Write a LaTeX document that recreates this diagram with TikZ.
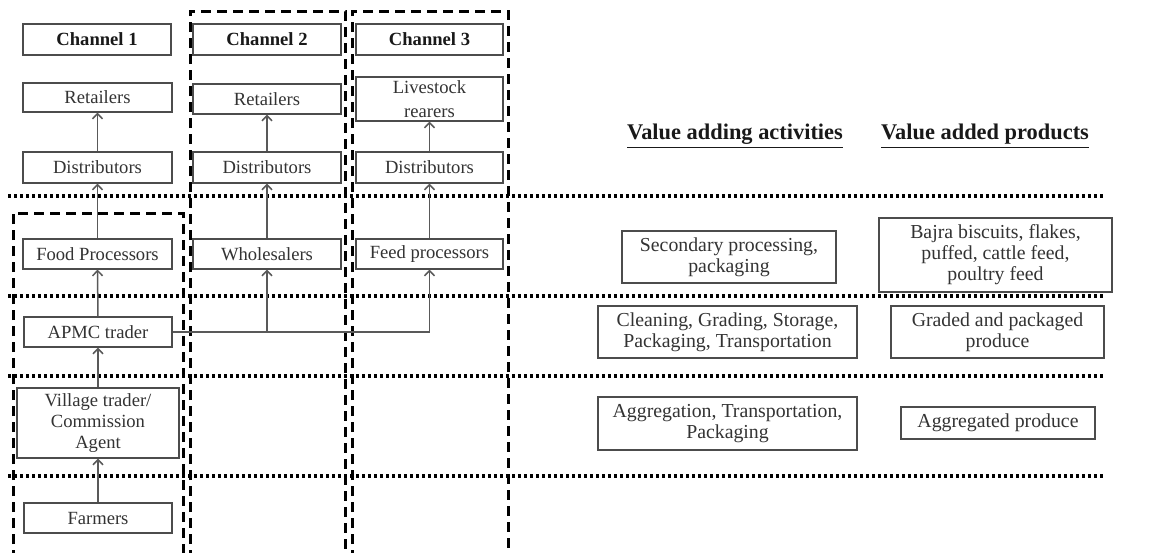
\documentclass[tikz,border=0pt]{standalone}
\usepackage{fontspec}
\setmainfont{Liberation Serif}
\usetikzlibrary{arrows.meta}
\newcommand{\boxfont}{\fontsize{9.3}{10.5}\selectfont}
\newcommand{\sidefont}{\fontsize{9.9}{10.5}\selectfont}
\newcommand{\sidehead}{\fontsize{11.2}{12}\selectfont\bfseries}
\begin{document}
\begin{tikzpicture}[x=0.5pt,y=-0.5pt,
  box/.style={draw=black!70, line width=0.55pt, inner sep=1pt, align=center,
    font=\boxfont, text=black!80, fill=white},
  sidebox/.style={box, font=\sidefont},
  headbox/.style={box, font=\boxfont\bfseries, text=black!90},
  arr/.style={draw=black!65, line width=0.75pt,
    -{Straight Barb[length=2.6pt,width=5pt]}},
  zoneline/.style={line width=1.7pt, dash pattern=on 1.6pt off 1.4pt},
  chanframe/.style={line width=1.5pt, dash pattern=on 5pt off 3pt}]
\useasboundingbox (0,0) rectangle (1152,552);

% channel frames
\draw[chanframe] (13,560) -- (13,213) -- (183,213) -- (183,560);
\draw[chanframe] (190,560) -- (190,11) -- (345,11) -- (345,560);
\draw[chanframe] (352,560) -- (352,11) -- (508,11) -- (508,560);

% stage separators
\foreach \yy in {196,296,376,476}
  \draw[zoneline] (8,\yy) -- (1103,\yy);

% channel headings
\node[headbox, minimum width=74pt, minimum height=15.5pt] (ch1) at (97,39.5) {Channel 1};
\node[headbox, minimum width=74pt, minimum height=15.5pt] (ch2) at (267,39.5) {Channel 2};
\node[headbox, minimum width=73.5pt, minimum height=15.5pt] (ch3) at (429.5,39.5) {Channel 3};

% channel 1
\node[box, minimum width=74.5pt, minimum height=14.5pt] (ret1) at (97.5,97.5) {Retailers};
\node[box, minimum width=74.5pt, minimum height=15.5pt] (dist1) at (97.5,167.5) {Distributors};
\node[box, minimum width=74.5pt, minimum height=15pt] (food) at (97.5,254) {Food Processors};
\node[box, minimum width=74pt, minimum height=15pt] (apmc) at (98,332) {APMC trader};
\node[box, minimum width=81pt, minimum height=35pt] (village) at (98,423) {Village trader/\\Commission\\Agent};
\node[box, minimum width=74pt, minimum height=15pt] (farmers) at (98,518) {Farmers};

% channel 2
\node[box, minimum width=74pt, minimum height=15pt] (ret2) at (267,99) {Retailers};
\node[box, minimum width=74pt, minimum height=15.5pt] (dist2) at (267,167.5) {Distributors};
\node[box, minimum width=74pt, minimum height=15pt] (whole) at (267,254) {Wholesalers};

% channel 3
\node[box, minimum width=73.5pt, minimum height=22pt, inner ysep=0pt,
  font=\fontsize{9.3}{12}\selectfont] (live) at (429.5,99) {Livestock\\rearers};
\node[box, minimum width=73.5pt, minimum height=15.5pt] (dist3) at (429.5,167.5) {Distributors};
\node[box, minimum width=73.5pt, minimum height=15pt] (feed) at (429.5,254) {Feed processors};

% flows
\draw[arr] (farmers.north) -- (village.south);
\draw[arr] (village.north) -- (apmc.south);
\draw[arr] (apmc.north) -- (food.south);
\draw[arr] (food.north) -- (dist1.south);
\draw[arr] (dist1.north) -- (ret1.south);
\draw[arr] (whole.north) -- (dist2.south);
\draw[arr] (dist2.north) -- (ret2.south);
\draw[arr] (feed.north) -- (dist3.south);
\draw[arr] (dist3.north) -- (live.south);
\draw[arr] (apmc.east) -| (feed.south);
\draw[arr] (apmc.east -| whole.south) -- (whole.south);

% value chain columns
\node[font=\sidehead, text=black!90] (acthead) at (735,136) {\underline{Value adding activities}};
\node[font=\sidehead, text=black!90] (prodhead) at (985,136) {\underline{Value added products}};

\node[sidebox, minimum width=107pt, minimum height=26pt] (sec) at (729,257) {Secondary processing,\\packaging};
\node[sidebox, minimum width=116.5pt, minimum height=37pt] (bajra) at (995.5,255) {Bajra biscuits, flakes,\\puffed, cattle feed,\\poultry feed};
\node[sidebox, minimum width=129.5pt, minimum height=26pt] (clean) at (727.5,332) {Cleaning, Grading, Storage,\\Packaging, Transportation};
\node[sidebox, minimum width=106.5pt, minimum height=26pt] (graded) at (997.5,332) {Graded and packaged\\produce};
\node[sidebox, minimum width=129.5pt, minimum height=26.5pt] (aggr) at (727.5,423.5) {Aggregation, Transportation,\\Packaging};
\node[sidebox, minimum width=97pt, minimum height=16pt] (aggp) at (998,423) {Aggregated produce};
\end{tikzpicture}
\end{document}
